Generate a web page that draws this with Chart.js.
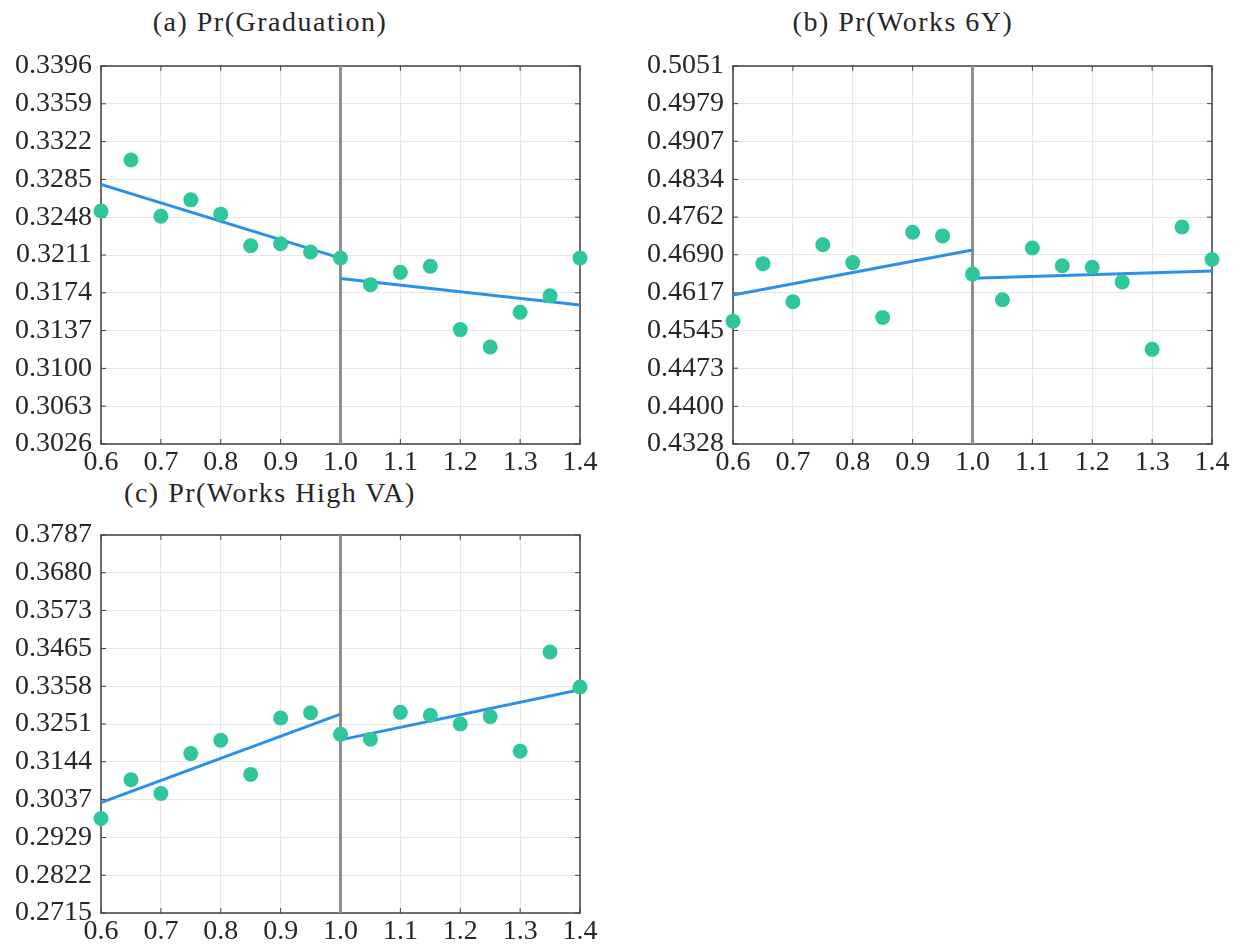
<!DOCTYPE html>
<html>
<head>
<meta charset="utf-8">
<title>RD plots</title>
<script src="https://cdn.jsdelivr.net/npm/chart.js@4.4.1/dist/chart.umd.min.js"></script>
<style>
    body { margin: 0; background: #ffffff; overflow: hidden; }
    #page { position: relative; width: 1240px; height: 950px; }
    canvas { position: absolute; }
    .panel-title {
        position: absolute;
        width: 540px;
        text-align: center;
        font-family: 'Liberation Serif', 'DejaVu Serif', serif;
        font-size: 28px;
        letter-spacing: 1.5px;
        line-height: 30px;
        color: #262626;
    }
</style>
</head>
<body>
<div id="page">
    <div class="panel-title" style="left:0px; top:7px;">(a) Pr(Graduation)</div>
    <div class="panel-title" style="left:633px; top:7px;">(b) Pr(Works 6Y)</div>
    <div class="panel-title" style="left:0px; top:478px;">(c) Pr(Works High VA)</div>
    <canvas id="gradChart" width="620" height="440" style="left:0px; top:40px;"></canvas>
    <canvas id="worksChart" width="607" height="440" style="left:632px; top:40px;"></canvas>
    <canvas id="highVaChart" width="620" height="440" style="left:0px; top:509px;"></canvas>
</div>

<script>
// Running variable bins and x axis ticks
const xValues = [0.6, 0.65, 0.7, 0.75, 0.8, 0.85, 0.9, 0.95, 1.0, 1.05, 1.1, 1.15, 1.2, 1.25, 1.3, 1.35, 1.4];
const xTicks = [0.6, 0.7, 0.8, 0.9, 1.0, 1.1, 1.2, 1.3, 1.4];
const cutoff = 1.0;
const fitLeftX = [0.6, 1.0];
const fitRightX = [1.0, 1.4];

// (a) Pr(Graduation)
const gradValues = [0.3254, 0.3304, 0.3249, 0.3265, 0.3251, 0.3220, 0.3222, 0.3214, 0.3208, 0.3182, 0.3194, 0.3200, 0.3138, 0.3121, 0.3155, 0.3171, 0.3208];
const gradFitLeft = [0.3280, 0.3208];
const gradFitRight = [0.3188, 0.3162];
const gradTicks = [0.3026, 0.3063, 0.3100, 0.3137, 0.3174, 0.3211, 0.3248, 0.3285, 0.3322, 0.3359, 0.3396];

// (b) Pr(Works 6Y)
const worksValues = [0.4563, 0.4673, 0.4600, 0.4709, 0.4675, 0.4570, 0.4733, 0.4726, 0.4653, 0.4604, 0.4703, 0.4669, 0.4666, 0.4638, 0.4509, 0.4743, 0.4681];
const worksFitLeft = [0.4613, 0.4699];
const worksFitRight = [0.4645, 0.4659];
const worksTicks = [0.4328, 0.4400, 0.4473, 0.4545, 0.4617, 0.4690, 0.4762, 0.4834, 0.4907, 0.4979, 0.5051];

// (c) Pr(Works High VA)
const highVaValues = [0.2983, 0.3093, 0.3054, 0.3167, 0.3205, 0.3108, 0.3268, 0.3283, 0.3222, 0.3208, 0.3284, 0.3276, 0.3251, 0.3272, 0.3174, 0.3455, 0.3356];
const highVaFitLeft = [0.3028, 0.3279];
const highVaFitRight = [0.3206, 0.3348];
const highVaTicks = [0.2715, 0.2822, 0.2929, 0.3037, 0.3144, 0.3251, 0.3358, 0.3465, 0.3573, 0.3680, 0.3787];

const dotColor = '#2fc59d';
const fitColor = '#2b91e8';
const cutoffColor = '#8f8f8f';
const gridColor = '#e6e6e6';
const textColor = '#262626';
const serifFamily = "'Liberation Serif', 'DejaVu Serif', serif";

Chart.defaults.font.family = serifFamily;
Chart.defaults.font.size = 28;

function toPoints(xs, ys) {
    return xs.map(function(x, i) { return { x: x, y: ys[i] }; });
}

// Box around the plot area with small inward tick marks (MATLAB style)
const boxPlugin = {
    id: 'boxPlugin',
    beforeDatasetsDraw: function(chart) {
        const ctx = chart.ctx;
        const area = chart.chartArea;
        const xScale = chart.scales.x;
        const yScale = chart.scales.y;
        ctx.save();
        ctx.strokeStyle = '#404040';
        ctx.lineWidth = 1;
        ctx.beginPath();
        xScale.ticks.forEach(function(t) {
            const px = xScale.getPixelForValue(t.value);
            ctx.moveTo(px, area.bottom);
            ctx.lineTo(px, area.bottom - 5);
            ctx.moveTo(px, area.top);
            ctx.lineTo(px, area.top + 5);
        });
        yScale.ticks.forEach(function(t) {
            const py = yScale.getPixelForValue(t.value);
            ctx.moveTo(area.left, py);
            ctx.lineTo(area.left + 5, py);
            ctx.moveTo(area.right, py);
            ctx.lineTo(area.right - 5, py);
        });
        ctx.stroke();
        ctx.lineWidth = 1.5;
        ctx.strokeRect(area.left, area.top, area.right - area.left, area.bottom - area.top);
        ctx.restore();
    }
};

function makePanel(canvasId, values, fitLeft, fitRight, yTicks, rightPad) {
    const ctx = document.getElementById(canvasId).getContext('2d');
    const yMin = yTicks[0];
    const yMax = yTicks[yTicks.length - 1];
    return new Chart(ctx, {
        type: 'scatter',
        data: {
            datasets: [{
                label: 'Bins',
                data: toPoints(xValues, values),
                backgroundColor: dotColor,
                borderWidth: 0,
                pointRadius: 7.5,
                pointHoverRadius: 7.5,
                clip: false,
                order: 0
            }, {
                label: 'Fit left',
                data: toPoints(fitLeftX, fitLeft),
                showLine: true,
                borderColor: fitColor,
                borderWidth: 3,
                pointRadius: 0,
                order: 1
            }, {
                label: 'Fit right',
                data: toPoints(fitRightX, fitRight),
                showLine: true,
                borderColor: fitColor,
                borderWidth: 3,
                pointRadius: 0,
                order: 1
            }, {
                label: 'Cutoff',
                data: [{ x: cutoff, y: yMin }, { x: cutoff, y: yMax }],
                showLine: true,
                borderColor: cutoffColor,
                borderWidth: 3,
                pointRadius: 0,
                order: 2
            }]
        },
        options: {
            responsive: false,
            animation: false,
            devicePixelRatio: 1,
            layout: {
                padding: { top: 26, right: rightPad, left: 0, bottom: 0 }
            },
            plugins: {
                legend: { display: false },
                tooltip: { enabled: false }
            },
            events: [],
            scales: {
                x: {
                    type: 'linear',
                    min: xTicks[0],
                    max: xTicks[xTicks.length - 1],
                    afterBuildTicks: function(axis) {
                        axis.ticks = xTicks.map(function(v) { return { value: v }; });
                    },
                    afterFit: function(scale) { scale.height = 36; },
                    grid: { color: gridColor, drawTicks: false },
                    border: { display: false },
                    ticks: {
                        color: textColor,
                        font: { family: serifFamily, size: 28 },
                        padding: 2,
                        maxRotation: 0,
                        autoSkip: false,
                        callback: function(value) { return Number(value).toFixed(1); }
                    }
                },
                y: {
                    type: 'linear',
                    min: yMin,
                    max: yMax,
                    afterBuildTicks: function(axis) {
                        axis.ticks = yTicks.map(function(v) { return { value: v }; });
                    },
                    afterFit: function(scale) { scale.width = 101; },
                    grid: { color: gridColor, drawTicks: false },
                    border: { display: false },
                    ticks: {
                        color: textColor,
                        font: { family: serifFamily, size: 28 },
                        padding: 9,
                        autoSkip: false,
                        callback: function(value) { return Number(value).toFixed(4); }
                    }
                }
            }
        },
        plugins: [boxPlugin]
    });
}

window.addEventListener('DOMContentLoaded', function() {
    makePanel('gradChart', gradValues, gradFitLeft, gradFitRight, gradTicks, 40);
    makePanel('worksChart', worksValues, worksFitLeft, worksFitRight, worksTicks, 27);
    makePanel('highVaChart', highVaValues, highVaFitLeft, highVaFitRight, highVaTicks, 40);
});
</script>
</body>
</html>
